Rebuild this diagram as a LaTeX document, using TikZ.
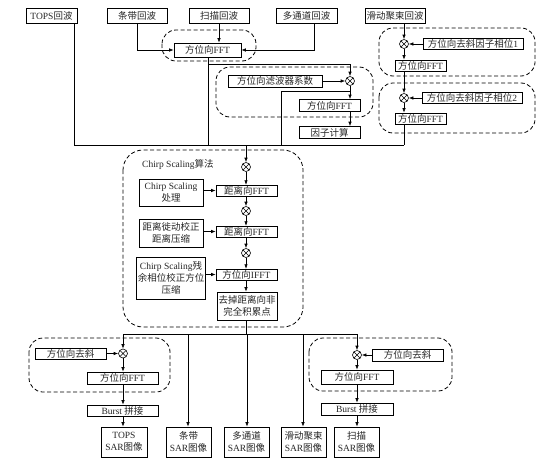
\documentclass[tikz,border=0pt]{standalone}
\usepackage{fontspec}
\setmainfont{Liberation Serif}
\newfontfamily\zhfont{Noto Sans CJK SC}
\newcommand\zh[1]{{\zhfont #1}}
\usetikzlibrary{arrows.meta}
\begin{document}
\begin{tikzpicture}[x=1pt,y=-1pt,
  font=\fontsize{9.5}{12}\selectfont,
  box/.style={draw, line width=0.6pt, inner sep=1pt, align=center, minimum height=11pt, text=black!85},
  ln/.style={line width=0.6pt},
  arr/.style={line width=0.6pt, -{Latex[length=4.5pt,width=3.4pt]}},
  grp/.style={line width=0.8pt, dash pattern=on 4pt off 2.5pt, rounded corners=14pt},
  ox/.style={circle, draw, minimum size=9pt, inner sep=0pt, line width=0.6pt,
    path picture={\draw[line width=0.6pt] (path picture bounding box.north west) -- (path picture bounding box.south east)
      (path picture bounding box.north east) -- (path picture bounding box.south west);}}
]
\useasboundingbox (0,0) rectangle (554,463);

% ---------- dashed groups ----------
\draw[grp] (162,30) rectangle (256,61);
\draw[grp] (216,67) rectangle (373,117);
\draw[grp] (379,28) rectangle (535,76);
\draw[grp] (379,83) rectangle (535,133);
\draw[grp, rounded corners=20pt] (123,150) rectangle (303,327);
\draw[grp] (29,338) rectangle (170,392);
\draw[grp] (309,338) rectangle (452,391);

% ---------- top row ----------
\node[box, minimum width=51pt, minimum height=15pt] (tops) at (51.5,15.5) {TOPS\zh{回波}};
\node[box, minimum width=60pt, minimum height=15pt] (tiaodai) at (137,15.5) {\zh{条带回波}};
\node[box, minimum width=60pt, minimum height=15pt] (saomiao) at (219,15.5) {\zh{扫描回波}};
\node[box, minimum width=61pt, minimum height=15pt] (duo) at (306.5,15.5) {\zh{多通道回波}};
\node[box, minimum width=60pt, minimum height=15pt] (hua) at (395,15.5) {\zh{滑动聚束回波}};

% ---------- first FFT ----------
\node[box, minimum width=67pt, minimum height=14pt] (fft1) at (207.5,50) {\zh{方位向}FFT};

\coordinate (cT) at (74,145);
\coordinate (cF1) at (208,145);
\coordinate (cM) at (281,145);
\coordinate (cS) at (404,145);
\coordinate (cCS) at (246,145);
\coordinate (dtx) at (314,50);
\coordinate (br1) at (208,64);
\coordinate (br2) at (350,91);

\draw[ln] (tops.south -| cT) -- (cT) -- (cS);
\draw[arr] (tiaodai.south) |- (fft1.west);
\draw[arr] (saomiao.south) -- (saomiao.south |- fft1.north);
\draw[arr] (duo.south -| dtx) -- (dtx) -- (fft1.east);
\draw[ln] (fft1.south -| cF1) -- (cF1);

% ---------- multichannel filter ----------
\node[box, minimum width=94pt, minimum height=12pt] (filt) at (275,81) {\zh{方位向滤波器系数}};
\node[ox] (xf) at (350,81) {};
\node[box, minimum width=61pt, minimum height=12pt] (fft2) at (329.5,105.5) {\zh{方位向}FFT};
\node[box, minimum width=61pt, minimum height=12pt] (yinzi) at (329.5,132.5) {\zh{因子计算}};
\draw[arr] (br1) -| (xf);
\draw[arr] (filt.east) -- (xf);
\draw[arr] (xf) -- (xf |- fft2.north);
\draw[arr] (fft2.south -| xf) -- (yinzi.north -| xf);
\draw[ln] (br2) -| (cM);

% ---------- sliding spotlight ----------
\node[ox] (x1) at (404,44) {};
\node[box, minimum width=100pt, minimum height=11pt] (ph1) at (473,44) {\zh{方位向去斜因子相位}1};
\node[box, minimum width=51pt, minimum height=11pt] (fs1) at (420.5,65.5) {\zh{方位向}FFT};
\node[ox] (x2) at (404,98) {};
\node[box, minimum width=100pt, minimum height=11pt] (ph2) at (472,98) {\zh{方位向去斜因子相位}2};
\node[box, minimum width=51pt, minimum height=11pt] (fs2) at (420.5,118.5) {\zh{方位向}FFT};
\draw[arr] (hua.south -| x1) -- (x1);
\draw[arr] (ph1) -- (x1);
\draw[arr] (x1) -- (x1 |- fs1.north);
\draw[arr] (fs1.south -| x1) -- (x2);
\draw[arr] (ph2) -- (x2);
\draw[arr] (x2) -- (x2 |- fs2.north);
\draw[ln] (fs2.south -| x1) -- (cS);

% ---------- Chirp Scaling ----------
\node[anchor=west, inner sep=0pt, text=black!85] (cslabel) at (142,165) {Chirp Scaling\zh{算法}};
\node[ox] (xa) at (246,167) {};
\draw[arr] (cCS) -- (xa);
\node[box, minimum width=61pt, minimum height=10pt] (rf1) at (246.5,190.5) {\zh{距离向}FFT};
\node[box, minimum width=64pt, minimum height=27pt] (cs1) at (171,192.5) {Chirp Scaling\\\zh{处理}};
\draw[arr] (xa) -- (xa |- rf1.north);
\draw[arr] (cs1.east |- rf1) -- (rf1.west);
\node[ox] (xb) at (246,211) {};
\draw[arr] (rf1.south -| xb) -- (xb);
\node[box, minimum width=61pt, minimum height=10pt] (rf2) at (246.5,231.5) {\zh{距离向}FFT};
\node[box, minimum width=64pt, minimum height=28pt] (cs2) at (171,233) {\zh{距离徙动校正}\\\zh{距离压缩}};
\draw[arr] (xb) -- (xb |- rf2.north);
\draw[arr] (cs2.east |- rf2) -- (rf2.west);
\node[ox] (xc) at (246,253) {};
\draw[arr] (rf2.south -| xc) -- (xc);
\node[box, minimum width=61pt, minimum height=10pt] (aif) at (246.5,274.5) {\zh{方位向}IFFT};
\node[box, minimum width=66pt, minimum height=42pt] (cs3) at (171,278) {Chirp Scaling\zh{残}\\\zh{余相位校正方位}\\\zh{压缩}};
\draw[arr] (xc) -- (xc |- aif.north);
\draw[arr] (cs3.east |- aif) -- (aif.west);
\node[box, minimum width=60pt, minimum height=28pt] (qd) at (247,306) {\zh{去掉距离向非}\\\zh{完全积累点}};
\draw[arr] (aif.south -| xc) -- (qd.north -| xc);

% ---------- lower bus ----------
\coordinate (b2m) at (246,334);
\coordinate (b2L) at (123,334);
\coordinate (b2a) at (188,334);
\coordinate (b2b) at (247,334);
\coordinate (b2c) at (303,334);
\coordinate (b2R) at (357,334);
\draw[ln] (qd.south -| b2m) -- (b2m);
\draw[ln] (b2L) -- (b2R);

% ---------- left (TOPS) ----------
\node[ox] (xL) at (123,353.5) {};
\node[box, minimum width=71pt, minimum height=10pt] (qxL) at (70.5,353.5) {\zh{方位向去斜}};
\node[box, minimum width=71pt, minimum height=12pt] (ffL) at (122.5,378) {\zh{方位向}FFT};
\node[box, minimum width=71pt, minimum height=11pt] (buL) at (122.5,410.5) {Burst \zh{拼接}};
\node[box, minimum width=46pt, minimum height=30pt] (sarT) at (124,442) {TOPS\\SAR\zh{图像}};
\draw[arr] (b2L) -- (xL);
\draw[arr] (qxL) -- (xL);
\draw[arr] (xL) -- (xL |- ffL.north);
\draw[arr] (ffL.south -| xL) -- (buL.north -| xL);
\draw[arr] (buL.south -| xL) -- (sarT.north -| xL);

% ---------- SAR images ----------
\node[box, minimum width=45pt, minimum height=30pt] (sarTD) at (188.5,442) {\zh{条带}\\SAR\zh{图像}};
\node[box, minimum width=45pt, minimum height=30pt] (sarDT) at (246.5,442) {\zh{多通道}\\SAR\zh{图像}};
\node[box, minimum width=45pt, minimum height=30pt] (sarHD) at (303.5,442) {\zh{滑动聚束}\\SAR\zh{图像}};
\node[box, minimum width=45pt, minimum height=30pt] (sarSM) at (356.5,442) {\zh{扫描}\\SAR\zh{图像}};
\draw[arr] (b2a) -- (b2a |- sarTD.north);
\draw[arr] (b2b) -- (b2b |- sarDT.north);
\draw[arr] (b2c) -- (b2c |- sarHD.north);

% ---------- right (scan) ----------
\node[ox] (xR) at (357,355) {};
\node[box, minimum width=71pt, minimum height=12pt] (qxR) at (407.5,355) {\zh{方位向去斜}};
\node[box, minimum width=72pt, minimum height=14pt] (ffR) at (357,377) {\zh{方位向}FFT};
\node[box, minimum width=72pt, minimum height=12pt] (buR) at (357,409) {Burst \zh{拼接}};
\draw[arr] (b2R) -- (xR);
\draw[arr] (qxR) -- (xR);
\draw[arr] (xR) -- (xR |- ffR.north);
\draw[arr] (ffR.south -| xR) -- (buR.north -| xR);
\draw[arr] (buR.south -| xR) -- (sarSM.north -| xR);
\end{tikzpicture}
\end{document}
